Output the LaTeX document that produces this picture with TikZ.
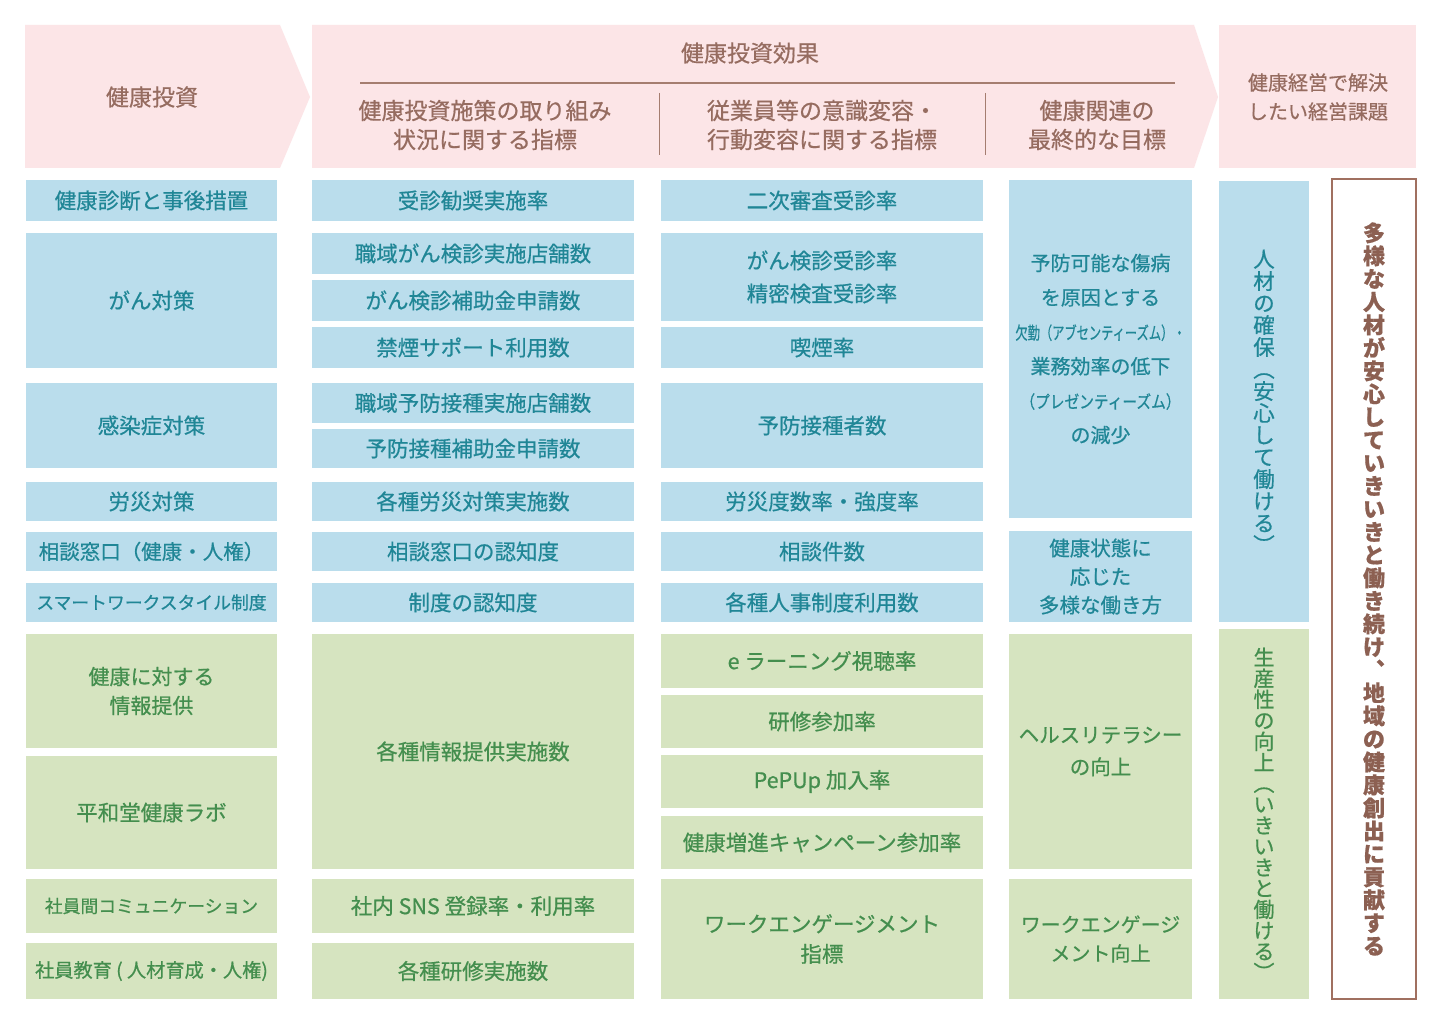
\documentclass[tikz,border=0pt]{standalone}
\usepackage{fontspec}
\usepackage{graphicx}
\setmainfont{Noto Sans CJK JP}[FakeBold=0.6]
\definecolor{pinkfill}{RGB}{252,229,231}
\definecolor{hdrtext}{RGB}{150,108,96}
\definecolor{hdrline}{RGB}{165,125,112}
\definecolor{bluefill}{RGB}{186,221,236}
\definecolor{bluetext}{RGB}{32,134,150}
\definecolor{greenfill}{RGB}{214,228,192}
\definecolor{greentext}{RGB}{68,142,78}
\definecolor{brownline}{RGB}{160,112,96}
\definecolor{browntext}{RGB}{140,96,82}
\newcommand\cellbox[7]{\node[#6, minimum width={#4-#2}, minimum height={#5-#3}] (#1) at ({(#2+#4)/2},{(#3+#5)/2}) {#7};}
\newcommand\narrowjp[2]{\scalebox{#1}[1]{#2}}
\begin{document}
\begin{tikzpicture}[x=1pt,y=-1pt,
  cell/.style={inner sep=0pt, outer sep=0pt, draw=none, align=center},
  bluecell/.style={cell, fill=bluefill, text=bluetext, font=\fontsize{21.5}{30}\selectfont},
  greencell/.style={cell, fill=greenfill, text=greentext, font=\fontsize{21.5}{30}\selectfont},
  hdr/.style={inner sep=0pt, text=hdrtext, align=center, font=\fontsize{23}{29}\selectfont},
]
\useasboundingbox (0,0) rectangle (1440,1024);
\fill[white] (0,0) rectangle (1440,1024);

% header shapes
\fill[pinkfill] (25,25) -- (280,25) -- (310,97) -- (280,168) -- (25,168) -- cycle;
\fill[pinkfill] (312,25) -- (1194,25) -- (1218,97) -- (1194,168) -- (312,168) -- cycle;
\fill[pinkfill] (1219,25) rectangle (1416,168);
\draw[hdrline, line width=1.3pt] (360,83) -- (1175,83);
\draw[hdrline, line width=1pt] (659,93) -- (659,155);
\draw[hdrline, line width=1pt] (985,93) -- (985,155);

\node[hdr] (h1) at (152,97) {健康投資};
\node[hdr] (h2) at (750,53) {健康投資効果};
\node[hdr] (h2a) at (485,125) {健康投資施策の取り組み\\状況に関する指標};
\node[hdr] (h2b) at (822,125) {従業員等の意識変容・\\行動変容に関する指標};
\node[hdr] (h2c) at (1097,125) {健康関連の\\最終的な目標};
\node[hdr, font=\fontsize{20}{29}\selectfont] (h3) at (1318,97) {健康経営で解決\\したい経営課題};

% column 1
\cellbox{a1}{26}{180}{277}{221}{bluecell}{健康診断と事後措置}
\cellbox{a2}{26}{233}{277}{368}{bluecell}{がん対策}
\cellbox{a3}{26}{383}{277}{468}{bluecell}{感染症対策}
\cellbox{a4}{26}{482}{277}{521}{bluecell}{労災対策}
\cellbox{a5}{26}{532}{277}{571}{bluecell, font=\fontsize{20.5}{30}\selectfont}{相談窓口（健康・人権）}
\cellbox{a6}{26}{583}{277}{622}{bluecell, font=\fontsize{17.8}{30}\selectfont}{スマートワークスタイル制度}
\cellbox{a7}{26}{634}{277}{748}{greencell, font=\fontsize{21}{29}\selectfont}{健康に対する\\情報提供}
\cellbox{a8}{26}{756}{277}{869}{greencell}{平和堂健康ラボ}
\cellbox{a9}{26}{879}{277}{933}{greencell, font=\fontsize{17.8}{30}\selectfont}{社員間コミュニケーション}
\cellbox{a10}{26}{943}{277}{999}{greencell, font=\fontsize{19.2}{30}\selectfont}{社員教育 ( 人材育成・人権)}

% column 2
\cellbox{b1}{312}{180}{634}{221}{bluecell}{受診勧奨実施率}
\cellbox{b2}{312}{233}{634}{274}{bluecell}{職域がん検診実施店舗数}
\cellbox{b3}{312}{280}{634}{321}{bluecell}{がん検診補助金申請数}
\cellbox{b4}{312}{327}{634}{368}{bluecell}{禁煙サポート利用数}
\cellbox{b5}{312}{383}{634}{423}{bluecell}{職域予防接種実施店舗数}
\cellbox{b6}{312}{429}{634}{468}{bluecell}{予防接種補助金申請数}
\cellbox{b7}{312}{482}{634}{521}{bluecell}{各種労災対策実施数}
\cellbox{b8}{312}{532}{634}{571}{bluecell}{相談窓口の認知度}
\cellbox{b9}{312}{583}{634}{622}{bluecell}{制度の認知度}
\cellbox{b10}{312}{634}{634}{869}{greencell}{各種情報提供実施数}
\cellbox{b11}{312}{879}{634}{933}{greencell}{社内 SNS 登録率・利用率}
\cellbox{b12}{312}{943}{634}{999}{greencell}{各種研修実施数}

% column 3
\cellbox{c1}{661}{180}{983}{221}{bluecell}{二次審査受診率}
\cellbox{c2}{661}{233}{983}{321}{bluecell, font=\fontsize{21.5}{33}\selectfont}{がん検診受診率\\精密検査受診率}
\cellbox{c3}{661}{327}{983}{368}{bluecell}{喫煙率}
\cellbox{c4}{661}{383}{983}{468}{bluecell}{予防接種者数}
\cellbox{c5}{661}{482}{983}{521}{bluecell}{労災度数率・強度率}
\cellbox{c6}{661}{532}{983}{571}{bluecell}{相談件数}
\cellbox{c7}{661}{583}{983}{622}{bluecell}{各種人事制度利用数}
\cellbox{c8}{661}{634}{983}{688}{greencell}{e ラーニング視聴率}
\cellbox{c9}{661}{695}{983}{748}{greencell}{研修参加率}
\cellbox{c10}{661}{755}{983}{808}{greencell}{PePUp 加入率}
\cellbox{c11}{661}{816}{983}{869}{greencell}{健康増進キャンペーン参加率}
\cellbox{c12}{661}{879}{983}{999}{greencell, font=\fontsize{21.5}{30}\selectfont}{ワークエンゲージメント\\指標}

% column 4
\cellbox{d1}{1009}{180}{1192}{518}{bluecell, font=\fontsize{20}{34.4}\selectfont}{予防可能な傷病\\を原因とする\\\narrowjp{0.70}{\fontsize{17.5}{34.4}\selectfont 欠勤（アブセンティーズム）・}\\業務効率の低下\\\narrowjp{0.84}{\fontsize{17.5}{34.4}\selectfont （プレゼンティーズム）}\\の減少}
\cellbox{d2}{1009}{531}{1192}{622}{bluecell, font=\fontsize{20.5}{28.5}\selectfont}{健康状態に\\応じた\\多様な働き方}
\cellbox{d3}{1009}{634}{1192}{869}{greencell, font=\fontsize{20.5}{32}\selectfont}{ヘルスリテラシー\\の向上}
\cellbox{d4}{1009}{879}{1192}{999}{greencell, font=\fontsize{20}{29}\selectfont}{ワークエンゲージ\\メント向上}

% column 5 (vertical text)
\cellbox{e1}{1219}{181}{1309}{622}{bluecell, font=\fontsize{21.5}{22}\selectfont}{人\\材\\の\\確\\保\\︵\\安\\心\\し\\て\\働\\け\\る\\︶}
\cellbox{e2}{1219}{629}{1309}{999}{greencell, font=\fontsize{21}{21}\selectfont}{生\\産\\性\\の\\向\\上\\︵\\い\\き\\い\\き\\と\\働\\け\\る\\︶}

% column 6
\cellbox{f1}{1332}{179}{1416}{999}{cell, fill=white, draw=brownline, line width=1.5pt, text=browntext, font=\fontsize{22}{23}\selectfont\bfseries}{多\\様\\な\\人\\材\\が\\安\\心\\し\\て\\い\\き\\い\\き\\と\\働\\き\\続\\け\\︑\\地\\域\\の\\健\\康\\創\\出\\に\\貢\\献\\す\\る}
\end{tikzpicture}
\end{document}
